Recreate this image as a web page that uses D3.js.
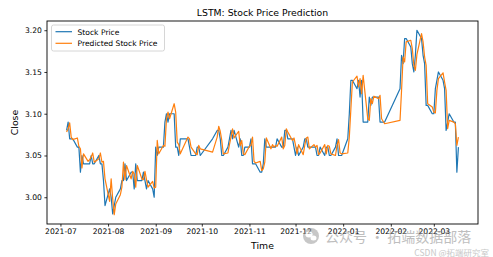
<!DOCTYPE html>
<html>
<head>
<meta charset="utf-8">
<script src="https://cdn.jsdelivr.net/npm/d3@7"></script>
<style>
  body { margin: 0; background: #fff; }
  svg { display: block; font-family: "DejaVu Sans", sans-serif; }
</style>
</head>
<body>
<svg id="chart" width="493" height="257"></svg>
<script>

// trading days shown in the chart
var dates = [
  "2021-07-05","2021-07-06","2021-07-07","2021-07-08","2021-07-09","2021-07-12","2021-07-13","2021-07-14","2021-07-15","2021-07-16",
  "2021-07-19","2021-07-20","2021-07-21","2021-07-22","2021-07-23","2021-07-26","2021-07-27","2021-07-28","2021-07-29","2021-07-30",
  "2021-08-02","2021-08-03","2021-08-04","2021-08-05","2021-08-06","2021-08-09","2021-08-10","2021-08-11","2021-08-12","2021-08-13",
  "2021-08-16","2021-08-17","2021-08-18","2021-08-19","2021-08-20","2021-08-23","2021-08-24","2021-08-25","2021-08-26","2021-08-27",
  "2021-08-30","2021-08-31",
  "2021-09-01","2021-09-02","2021-09-03","2021-09-06","2021-09-07","2021-09-08","2021-09-09","2021-09-10","2021-09-13","2021-09-14",
  "2021-09-15","2021-09-16","2021-09-17","2021-09-22","2021-09-23","2021-09-24","2021-09-27","2021-09-28","2021-09-29","2021-09-30",
  "2021-10-08","2021-10-11","2021-10-12","2021-10-13","2021-10-14","2021-10-15","2021-10-18","2021-10-19","2021-10-20","2021-10-21",
  "2021-10-22","2021-10-25","2021-10-26","2021-10-27","2021-10-28","2021-10-29",
  "2021-11-01","2021-11-02","2021-11-03","2021-11-04","2021-11-05","2021-11-08","2021-11-09","2021-11-10","2021-11-11","2021-11-12",
  "2021-11-15","2021-11-16","2021-11-17","2021-11-18","2021-11-19","2021-11-22","2021-11-23","2021-11-24","2021-11-25","2021-11-26",
  "2021-11-29","2021-11-30",
  "2021-12-01","2021-12-02","2021-12-03","2021-12-06","2021-12-07","2021-12-08","2021-12-09","2021-12-10","2021-12-13","2021-12-14",
  "2021-12-15","2021-12-16","2021-12-17","2021-12-20","2021-12-21","2021-12-22","2021-12-23","2021-12-24","2021-12-27","2021-12-28",
  "2021-12-29","2021-12-30","2021-12-31",
  "2022-01-04","2022-01-05","2022-01-06","2022-01-07","2022-01-10","2022-01-11","2022-01-12","2022-01-13","2022-01-14","2022-01-17",
  "2022-01-18","2022-01-19","2022-01-20","2022-01-21","2022-01-24","2022-01-25","2022-01-26","2022-01-27","2022-01-28",
  "2022-02-07","2022-02-08","2022-02-09","2022-02-10","2022-02-11","2022-02-14","2022-02-15","2022-02-16","2022-02-17","2022-02-18",
  "2022-02-21","2022-02-22","2022-02-23","2022-02-24","2022-02-25","2022-02-28",
  "2022-03-01","2022-03-02","2022-03-03","2022-03-04","2022-03-07","2022-03-08","2022-03-09","2022-03-10","2022-03-11","2022-03-14",
  "2022-03-15","2022-03-16","2022-03-17"
];

// actual close
var close = [
  3.08,3.09,3.07,3.07,3.07,3.06,3.06,3.03,3.05,3.04,3.04,3.04,3.05,3.04,3.04,3.05,3.04,3.04,3.02,2.99,
  3.01,3.00,2.98,2.99,3.00,3.01,3.02,3.02,3.04,3.02,3.03,3.03,3.01,3.04,3.02,3.02,3.03,3.02,3.01,3.02,3.01,3.00,
  3.06,3.05,3.06,3.06,3.09,3.10,3.09,3.10,3.10,3.06,3.06,3.05,3.07,3.07,3.06,3.05,3.05,3.06,3.06,3.05,
  3.07,3.08,3.08,3.07,3.05,3.05,3.06,3.07,3.08,3.07,3.08,3.06,3.07,3.05,3.05,3.06,
  3.06,3.07,3.04,3.04,3.04,3.03,3.03,3.04,3.07,3.06,3.06,3.06,3.06,3.06,3.07,3.06,3.06,3.08,3.08,3.07,3.07,3.06,
  3.05,3.06,3.05,3.06,3.07,3.07,3.06,3.06,3.06,3.06,3.05,3.05,3.06,3.05,3.06,3.06,3.05,3.05,3.06,3.07,3.05,3.05,3.05,
  3.07,3.10,3.14,3.14,3.13,3.14,3.12,3.14,3.09,3.09,3.12,3.11,3.12,3.12,3.12,3.09,3.09,3.09,3.09,
  3.13,3.17,3.16,3.19,3.19,3.18,3.16,3.15,3.17,3.20,3.19,3.17,3.16,3.11,3.11,3.10,
  3.10,3.13,3.14,3.15,3.14,3.13,3.08,3.09,3.10,3.09,3.09,3.03,3.06
];

// model output
var predicted = [
  3.078,3.082,3.089,3.072,3.069,3.071,3.061,3.058,3.035,3.052,3.043,3.045,3.048,3.053,3.042,3.046,3.053,3.042,3.043,3.022,
  2.995,3.022,2.998,2.979,2.992,3.003,3.012,3.042,3.021,3.038,3.022,3.031,3.028,3.012,3.038,3.022,3.021,3.031,3.021,3.012,3.019,3.011,
  3.012,3.068,3.052,3.062,3.061,3.094,3.102,3.094,3.112,3.102,3.066,3.063,3.052,3.072,3.070,3.060,3.052,3.051,3.062,3.058,
  3.054,3.072,3.085,3.079,3.068,3.052,3.053,3.063,3.072,3.082,3.071,3.079,3.062,3.068,3.052,3.051,
  3.061,3.062,3.072,3.043,3.041,3.043,3.032,3.034,3.042,3.071,3.058,3.063,3.060,3.062,3.061,3.072,3.058,3.062,3.082,3.078,3.068,3.071,
  3.062,3.052,3.063,3.051,3.062,3.071,3.072,3.058,3.063,3.060,3.062,3.051,3.053,3.063,3.052,3.062,3.061,3.052,3.050,3.062,3.069,3.053,3.052,
  3.053,3.072,3.105,3.138,3.145,3.132,3.142,3.124,3.146,3.094,3.092,3.118,3.112,3.121,3.118,3.122,3.094,3.091,3.088,
  3.092,3.128,3.168,3.162,3.186,3.188,3.178,3.158,3.152,3.171,3.196,3.186,3.168,3.158,3.112,3.108,
  3.102,3.101,3.128,3.142,3.149,3.138,3.128,3.082,3.092,3.090,3.088,3.062,3.072
];

var yTicks = [3.00, 3.05, 3.10, 3.15, 3.20];
var seriesNames = ["Stock Price", "Predicted Stock Price"];
var seriesColors = ["#1f77b4", "#ff7f0e"];

var W = 493, H = 257;
var margin = {left: 47, right: 15, top: 21, bottom: 33};
var innerW = W - margin.left - margin.right;
var innerH = H - margin.top - margin.bottom;

var parse = d3.timeParse("%Y-%m-%d");
var rows = dates.map(function (d, i) {
  return {date: parse(d), close: close[i], pred: predicted[i]};
});

// matplotlib style 5% padding
var xExt = d3.extent(rows, function (d) { return d.date; });
var xPad = (xExt[1] - xExt[0]) * 0.05;
var x = d3.scaleTime()
  .domain([new Date(+xExt[0] - xPad), new Date(+xExt[1] + xPad)])
  .range([0, innerW]);

var yMin = d3.min(rows, function (d) { return Math.min(d.close, d.pred); });
var yMax = d3.max(rows, function (d) { return Math.max(d.close, d.pred); });
var yPad = (yMax - yMin) * 0.05;
var y = d3.scaleLinear()
  .domain([yMin - yPad, yMax + yPad])
  .range([innerH, 0]);

var svg = d3.select("#chart");
svg.append("rect").attr("width", W).attr("height", H).attr("fill", "#fff");

var g = svg.append("g").attr("transform", "translate(" + margin.left + "," + margin.top + ")");

g.append("clipPath").attr("id", "clip")
  .append("rect").attr("width", innerW).attr("height", innerH);

var plot = g.append("g").attr("clip-path", "url(#clip)");

var lineClose = d3.line()
  .x(function (d) { return x(d.date); })
  .y(function (d) { return y(d.close); });
var linePred = d3.line()
  .x(function (d) { return x(d.date); })
  .y(function (d) { return y(d.pred); });

plot.append("path").datum(rows)
  .attr("d", lineClose)
  .attr("fill", "none").attr("stroke", seriesColors[0])
  .attr("stroke-width", 1.2).attr("stroke-linejoin", "round");
plot.append("path").datum(rows)
  .attr("d", linePred)
  .attr("fill", "none").attr("stroke", seriesColors[1])
  .attr("stroke-width", 1.2).attr("stroke-linejoin", "round");

// axes
var xAxis = d3.axisBottom(x)
  .ticks(d3.timeMonth.every(1))
  .tickFormat(d3.timeFormat("%Y-%m"))
  .tickSize(2.6).tickPadding(2.5);
var yAxis = d3.axisLeft(y)
  .tickValues(yTicks)
  .tickFormat(d3.format(".2f"))
  .tickSize(2.6).tickPadding(2.5);

var gx = g.append("g").attr("transform", "translate(0," + innerH + ")").call(xAxis);
var gy = g.append("g").call(yAxis);
[gx, gy].forEach(function (a) {
  a.select(".domain").remove();
  a.selectAll(".tick line").attr("stroke", "#000").attr("stroke-width", 0.8);
  a.selectAll(".tick text")
    .attr("fill", "#000")
    .style("font-family", "DejaVu Sans")
    .style("font-size", "7.6px");
});

// frame
g.append("rect")
  .attr("width", innerW).attr("height", innerH)
  .attr("fill", "none").attr("stroke", "#000").attr("stroke-width", 0.9);

// title and labels
svg.append("text")
  .attr("x", margin.left + innerW / 2).attr("y", 16)
  .attr("text-anchor", "middle")
  .style("font-size", "9.3px")
  .text("LSTM: Stock Price Prediction");

svg.append("text")
  .attr("x", margin.left + innerW / 2).attr("y", 249)
  .attr("text-anchor", "middle")
  .style("font-size", "9.3px")
  .text("Time");

svg.append("text")
  .attr("transform", "translate(18," + (margin.top + innerH / 2) + ") rotate(-90)")
  .attr("text-anchor", "middle")
  .style("font-size", "9.3px")
  .text("Close");

// legend
var legend = g.append("g").attr("transform", "translate(4.5,4)");
legend.append("rect")
  .attr("width", 113).attr("height", 26).attr("rx", 2)
  .attr("fill", "#fff").attr("fill-opacity", 0.8)
  .attr("stroke", "#cccccc").attr("stroke-width", 0.8);
seriesNames.forEach(function (name, i) {
  var ly = 6.7 + i * 11.6;
  legend.append("line")
    .attr("x1", 4).attr("x2", 20.5).attr("y1", ly).attr("y2", ly)
    .attr("stroke", seriesColors[i]).attr("stroke-width", 1.2);
  legend.append("text")
    .attr("x", 26).attr("y", ly + 2.8)
    .style("font-size", "7.6px")
    .text(name);
});

// watermark
var wm = svg.append("g").attr("opacity", 0.55);
wm.append("circle").attr("cx", 311).attr("cy", 236).attr("r", 8).attr("fill", "#9a9a9a");
wm.append("ellipse").attr("cx", 309).attr("cy", 234.5).attr("rx", 3.6).attr("ry", 3).attr("fill", "#fff");
wm.append("ellipse").attr("cx", 313.5).attr("cy", 238).attr("rx", 3).attr("ry", 2.5).attr("fill", "#fff");
wm.append("text")
  .attr("x", 325).attr("y", 242)
  .style("font-family", "Noto Sans CJK SC")
  .style("font-size", "14px").attr("fill", "#8a8a8a")
  .text("公众号 · 拓端数据部落");
svg.append("text")
  .attr("x", 489).attr("y", 255.5)
  .attr("text-anchor", "end")
  .style("font-family", "Noto Sans CJK SC")
  .style("font-size", "8.5px").attr("fill", "#c8c8c8")
  .text("CSDN @拓端研究室");

</script>
</body>
</html>
